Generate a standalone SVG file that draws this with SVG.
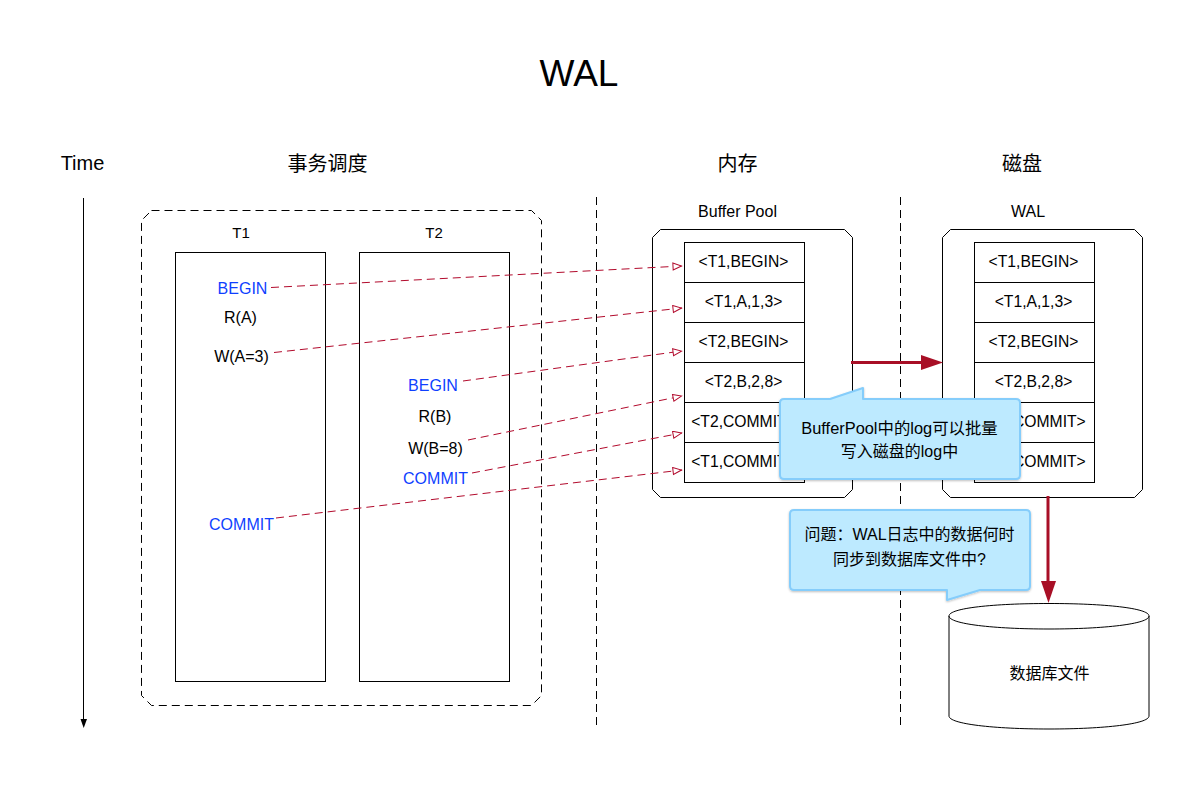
<svg xmlns="http://www.w3.org/2000/svg" width="1200" height="800" viewBox="0 0 1200 800">
<style>
text{font-family:"Liberation Sans","Noto Sans CJK SC",sans-serif;font-size:15.7px;fill:#000;text-anchor:middle}
.b{fill:#0f3fff;font-size:16px}
.op{font-size:16px}
.h{font-size:20px}
.s{font-size:16px}
.t{font-size:15px}
.n{font-size:16px}
.box{fill:#fff;stroke:#000;stroke-width:1}
.sep{fill:none;stroke:#000;stroke-width:1;stroke-dasharray:8 5}
.dash{fill:none;stroke:#b20a2c;stroke-width:1;stroke-dasharray:8 5;marker-end:url(#open)}
.thick{fill:none;stroke:#a80f26;stroke-width:3}
.call{fill:#bdeaff;stroke:#85cdfb;stroke-width:2;stroke-linejoin:round;filter:url(#sh)}
</style>
<defs>
<marker id="open" markerUnits="userSpaceOnUse" markerWidth="12" markerHeight="10" refX="10" refY="4" orient="auto"><path d="M1,0.5 L9.500,4 L1,7.500 Z" fill="#fff" stroke="#b20a2c" stroke-width="1"/></marker>
<filter id="sh" x="-5%" y="-5%" width="110%" height="115%"><feDropShadow dx="0" dy="1" stdDeviation="1.2" flood-color="#000" flood-opacity="0.25"/></filter>
</defs>
<g id="title"><text x="579" y="86" style="font-size:37px">WAL</text></g>
<g id="headers">
<text x="82.500" y="169.500" class="h">Time</text>
<text x="327.500" y="171" class="h">事务调度</text>
<text x="737.500" y="171" class="h">内存</text>
<text x="1022" y="171" class="h">磁盘</text>
</g>
<g id="separators">
<path class="sep" d="M596.500 197V727"/>
<path class="sep" d="M900.500 197V727"/>
</g>
<g id="time-axis"><path d="M83.500 198V720" fill="none" stroke="#000" stroke-width="1"/><path d="M80.500 719H87L83.700 728Z" fill="#000"/></g>
<g id="schedule"><path d="M151.500 210.500H531.500L541.500 220.500V695.500L531.500 705.500H151.500L141.500 695.500V220.500Z" fill="none" stroke="#000" stroke-dasharray="8 5"/></g>
<g id="t1">
<text x="241" y="237.500" class="t">T1</text>
<rect class="box" x="175.500" y="252.500" width="150" height="429"/>
<text x="242.500" y="293.500" class="b">BEGIN</text>
<text x="240.500" y="323" class="op">R(A)</text>
<text x="241.500" y="361.500" class="op">W(A=3)</text>
<text x="241.500" y="529.500" class="b">COMMIT</text>
</g>
<g id="t2">
<text x="434" y="237.500" class="t">T2</text>
<rect class="box" x="359.500" y="252.500" width="150" height="429"/>
<text x="433" y="390.500" class="b">BEGIN</text>
<text x="435" y="422" class="op">R(B)</text>
<text x="435.500" y="453.500" class="op">W(B=8)</text>
<text x="435.500" y="483.500" class="b">COMMIT</text>
</g>
<g id="buffer-pool">
<text x="737.500" y="216.500" class="s">Buffer Pool</text>
<path class="box" d="M660.500 229.500H844.500L852.500 237.500V489.500L844.500 497.500H660.500L652.500 489.500V237.500Z"/>
<g id="buffer-log">
<rect class="box" x="684.500" y="242.500" width="120" height="40"/>
<rect class="box" x="684.500" y="282.500" width="120" height="40"/>
<rect class="box" x="684.500" y="322.500" width="120" height="40"/>
<rect class="box" x="684.500" y="362.500" width="120" height="40"/>
<rect class="box" x="684.500" y="402.500" width="120" height="40"/>
<rect class="box" x="684.500" y="442.500" width="120" height="40"/>
<text x="743.500" y="266.500">&lt;T1,BEGIN&gt;</text>
<text x="743.500" y="306.500">&lt;T1,A,1,3&gt;</text>
<text x="743.500" y="346.500">&lt;T2,BEGIN&gt;</text>
<text x="743.500" y="386.500">&lt;T2,B,2,8&gt;</text>
<text x="743.500" y="426.500">&lt;T2,COMMIT&gt;</text>
<text x="743.500" y="466.500">&lt;T1,COMMIT&gt;</text>
</g>
</g>
<g id="wal">
<text x="1028" y="216.500" class="s">WAL</text>
<path class="box" d="M950.500 229.500H1134.500L1142.500 237.500V489.500L1134.500 497.500H950.500L942.500 489.500V237.500Z"/>
<g id="wal-log">
<rect class="box" x="974.500" y="242.500" width="120" height="40"/>
<rect class="box" x="974.500" y="282.500" width="120" height="40"/>
<rect class="box" x="974.500" y="322.500" width="120" height="40"/>
<rect class="box" x="974.500" y="362.500" width="120" height="40"/>
<rect class="box" x="974.500" y="402.500" width="120" height="40"/>
<rect class="box" x="974.500" y="442.500" width="120" height="40"/>
<text x="1033.500" y="266.500">&lt;T1,BEGIN&gt;</text>
<text x="1033.500" y="306.500">&lt;T1,A,1,3&gt;</text>
<text x="1033.500" y="346.500">&lt;T2,BEGIN&gt;</text>
<text x="1033.500" y="386.500">&lt;T2,B,2,8&gt;</text>
<text x="1033.500" y="426.500">&lt;T2,COMMIT&gt;</text>
<text x="1033.500" y="466.500">&lt;T1,COMMIT&gt;</text>
</g>
</g>
<g id="database">
<path class="box" d="M949 616C949 608 994 603.500 1049 603.500C1104 603.500 1149 608 1149 616V716C1149 724 1104 729 1049 729C994 729 949 724 949 716Z"/>
<path class="box" style="fill:none" d="M949 616C949 624 994 629 1049 629C1104 629 1149 624 1149 616"/>
<text x="1049.500" y="679" class="n">数据库文件</text>
</g>
<g id="connectors">
<path class="dash" d="M271 287.500L682 266"/>
<path class="dash" d="M274 352.500L682 308"/>
<path class="dash" d="M463 381L682 351"/>
<path class="dash" d="M468 440L682 396"/>
<path class="dash" d="M472 473L682 433"/>
<path class="dash" d="M276 518L682 470"/>
<path class="thick" d="M851 362.500H925"/>
<path d="M921 355L943 362.500L921 370Z" fill="#a80f26"/>
<path class="thick" d="M1048 496V585"/>
<path d="M1041 581L1048.500 603L1056 581Z" fill="#a80f26"/>
</g>
<g id="note-buffer">
<path class="call" d="M784 399H830L863 388V399H1016Q1020 399 1020 403V475Q1020 479 1016 479H784Q780 479 780 475V403Q780 399 784 399Z"/>
<text x="899.500" y="434" style="font-size:16.400px">BufferPool中的log可以批量</text>
<text x="899.500" y="456.500" class="n">写入磁盘的log中</text>
</g>
<g id="note-wal">
<path class="call" d="M794 510H1026Q1030 510 1030 514V586Q1030 590 1026 590H980L947 600V590H794Q790 590 790 586V514Q790 510 794 510Z"/>
<text x="909.500" y="540" class="n">问题：WAL日志中的数据何时</text>
<text x="909.500" y="564.500" class="n">同步到数据库文件中?</text>
</g>
</svg>
